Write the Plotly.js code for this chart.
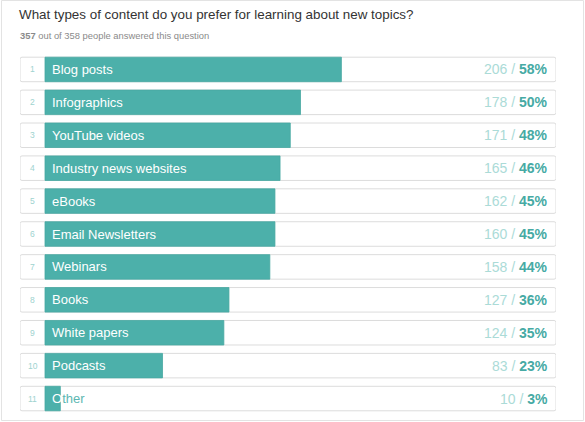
<!DOCTYPE html>
<html><head><meta charset="utf-8">
<script src="https://cdn.plot.ly/plotly-3.0.1.min.js"></script>
<style>html,body{margin:0;padding:0;background:#fff;}#chart{width:585px;height:422px;}</style>
</head><body><div id="chart"></div>
<script>
const categories = ["Blog posts","Infographics","YouTube videos","Industry news websites","eBooks","Email Newsletters","Webinars","Books","White papers","Podcasts","Other"];
const counts = [206,178,171,165,162,160,158,127,124,83,10];
const percents = [58,50,48,46,45,45,44,36,35,23,3];
const answered = 357;
const total = 358;
const titleText = "What types of content do you prefer for learning about new topics?";

const TEAL = "#4cb0aa";
const XMIN = -4.892;
const ranks = categories.map((c,i)=>String(i+1));

const bg = {type:"bar", orientation:"h", y:categories, x:categories.map(()=>100-XMIN), base:XMIN,
  marker:{color:"#ffffff", line:{color:"#dcdcdc", width:1}, cornerradius:2}, hoverinfo:"skip", showlegend:false};
const bars = {type:"bar", orientation:"h", y:categories, x:percents, base:0,
  marker:{color:TEAL, line:{color:"#47a8a2", width:0.8}}, hoverinfo:"skip", showlegend:false};

const FONT = "Liberation Sans, Arial, Helvetica, sans-serif";
const annotations = [];
categories.forEach((c,i)=>{
  annotations.push({x:XMIN/2, y:c, xref:"x", yref:"y", text:ranks[i], showarrow:false,
    font:{family:FONT, size:8.5, color:"#9ed3cf"}, xanchor:"center", yanchor:"middle"});
  let label = c;
  if (c === "Other") label = '<span style="color:#ffffff">O</span><span style="color:#5db7b2">ther</span>';
  annotations.push({x:0, y:c, xref:"x", yref:"y", text:label, showarrow:false, xshift:5,
    font:{family:FONT, size:13, color:"#ffffff"}, xanchor:"left", yanchor:"middle"});
  annotations.push({x:100, y:c, xref:"x", yref:"y", xshift:-6, showarrow:false,
    text:'<span style="color:#abdbd7">'+counts[i]+' / </span><b>'+percents[i]+'%</b>',
    font:{family:FONT, size:14, color:"#46aaa4"}, xanchor:"right", yanchor:"middle"});
});
annotations.push({xref:"paper", yref:"paper", x:-0.003, y:(415-35)/362, xanchor:"left", yanchor:"middle", showarrow:false,
  text:'<b>'+answered+'</b> out of '+total+' people answered this question',
  font:{family:FONT, size:9.4, color:"#8a8a8a"}});

const layout = {
  width:585, height:422,
  margin:{l:20, r:29, t:53, b:7},
  paper_bgcolor:"#ffffff", plot_bgcolor:"rgba(0,0,0,0)",
  barmode:"overlay", bargap:0.255,
  title:{text:titleText, x:19/585, xanchor:"left", xref:"container", y:1-14/422, yref:"container", yanchor:"middle",
    font:{family:FONT, size:13.4, color:"#333333"}},
  xaxis:{range:[XMIN,100], visible:false, fixedrange:true},
  yaxis:{type:"category", categoryorder:"array", categoryarray:categories, autorange:"reversed", visible:false, fixedrange:true},
  annotations:annotations,
  shapes:[{type:"rect", xref:"paper", yref:"paper", layer:"below",
    x0:(1.5-20)/536, x1:(583.5-20)/536, y0:(415-420.5)/362, y1:(415-0.5)/362,
    line:{color:"#e3e3e3", width:1}, fillcolor:"#ffffff"}],
  showlegend:false
};
Plotly.newPlot("chart", [bg, bars], layout, {displayModeBar:false, staticPlot:true});
</script></body></html>
